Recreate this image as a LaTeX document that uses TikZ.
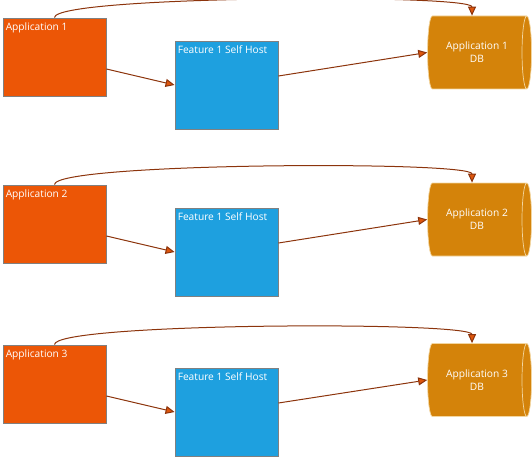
\documentclass[tikz,border=0pt]{standalone}
\usepackage{fontspec}
\setmainfont{Open Sans}
\usetikzlibrary{arrows.meta,shapes.geometric}
\definecolor{appcolor}{RGB}{236,86,6}
\definecolor{featcolor}{RGB}{30,160,223}
\definecolor{dbcolor}{RGB}{212,131,10}
\definecolor{dbline}{RGB}{243,214,160}
\definecolor{boxline}{RGB}{128,128,128}
\definecolor{arrowline}{RGB}{140,52,12}
\definecolor{arrowhead}{RGB}{222,86,12}
\tikzset{>={Triangle[length=9pt,width=8pt,fill=arrowhead]}}
\tikzset{
  appbox/.style={rectangle, fill=appcolor, draw=boxline, line width=0.9pt,
    minimum width=103pt, minimum height=78pt, inner sep=0pt},
  featbox/.style={rectangle, fill=featcolor, draw=boxline, line width=0.9pt,
    minimum width=103pt, minimum height=88pt, inner sep=0pt},
  dbbox/.style={cylinder, shape aspect=0.46, fill=dbcolor, draw=dbline, line width=0.7pt,
    minimum height=104pt, minimum width=73pt, inner sep=0pt, text=white, align=center},
  boxtext/.style={anchor=north west, text=white, inner xsep=3pt, inner ysep=5pt},
  flow/.style={->, draw=arrowline, line width=1pt}
}

\begin{document}
\begin{tikzpicture}[x=1pt, y=-1pt, font=\fontsize{10.2}{13}\selectfont]
    \useasboundingbox (0,0) rectangle (532,457);

    % row 1
    \node [appbox, label={[boxtext]north west:Application 1}] (app1) at (54.5,57) {};
    \node [featbox, label={[boxtext]north west:Feature 1 Self Host}] (feat1) at (226.5,85) {};
    \node [dbbox] (db1) at (477,52.5) {Application 1\\DB};

    \draw [flow] ([yshift=-12pt]app1.east) -- (feat1.west);
    \draw [flow] ([yshift=9pt]feat1.east) -- (db1.west);
    \draw [flow] (app1.north) .. controls +(0,-22) and +(0,-22) .. ([xshift=-5pt]db1.north);

    % row 2
    \node [appbox, label={[boxtext]north west:Application 2}] (app2) at (54.5,224) {};
    \node [featbox, label={[boxtext]north west:Feature 1 Self Host}] (feat2) at (226.5,252) {};
    \node [dbbox] (db2) at (477,219.5) {Application 2\\DB};

    \draw [flow] ([yshift=-12pt]app2.east) -- (feat2.west);
    \draw [flow] ([yshift=9pt]feat2.east) -- (db2.west);
    \draw [flow] (app2.north) .. controls +(0,-22) and +(0,-22) .. ([xshift=-5pt]db2.north);

    % row 3
    \node [appbox, label={[boxtext]north west:Application 3}] (app3) at (54.5,384) {};
    \node [featbox, label={[boxtext]north west:Feature 1 Self Host}] (feat3) at (226.5,412) {};
    \node [dbbox] (db3) at (477,380) {Application 3\\DB};

    \draw [flow] ([yshift=-12pt]app3.east) -- (feat3.west);
    \draw [flow] ([yshift=9pt]feat3.east) -- (db3.west);
    \draw [flow] (app3.north) .. controls +(0,-22) and +(0,-22) .. ([xshift=-5pt]db3.north);
\end{tikzpicture}
\end{document}
